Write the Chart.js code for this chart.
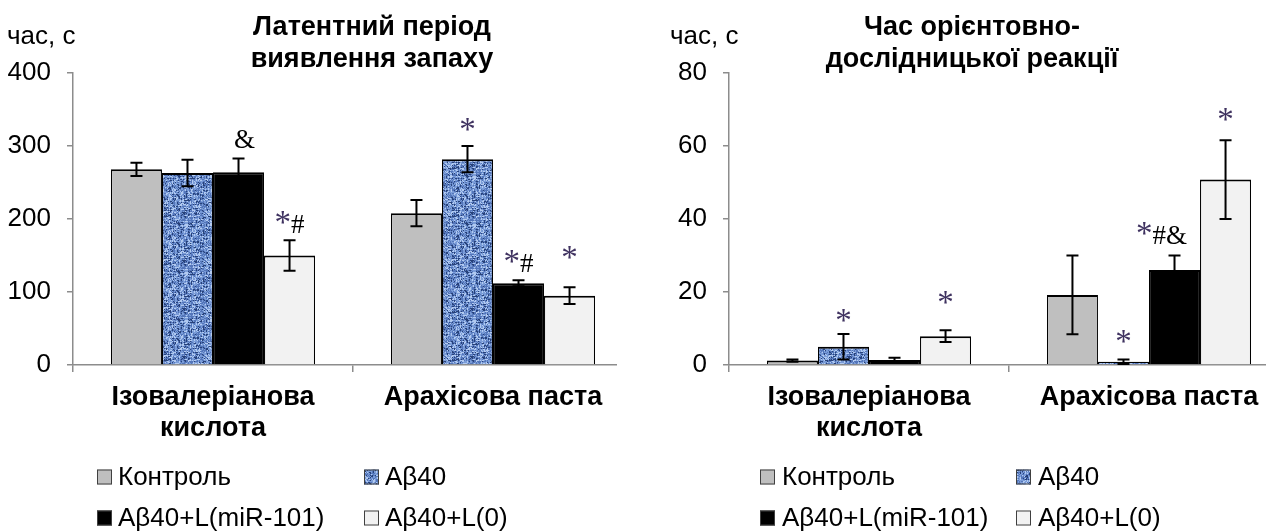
<!DOCTYPE html>
<html>
<head>
<meta charset="utf-8">
<script src="https://cdn.jsdelivr.net/npm/chart.js@4/dist/chart.umd.min.js"></script>
<style>
  html, body { margin: 0; padding: 0; background: #fff; overflow: hidden; width: 1266px; height: 531px; }
  .panel { position: absolute; top: 0; height: 531px; overflow: hidden; background: #fff; }
  #p1 { left: 0; width: 617px; }
  #p2 { left: 617px; width: 649px; }
  canvas { position: absolute; top: 0; left: 0; }
</style>
</head>
<body>
<div class="panel" id="p1"><canvas id="c1" width="680" height="531" style="width:680px;height:531px"></canvas></div>
<div class="panel" id="p2"><canvas id="c2" width="700" height="531" style="width:700px;height:531px"></canvas></div>
<script>
// ---- data ----
const categories = [['Ізовалеріанова', 'кислота'], 'Арахісова паста'];
const seriesNames = ['Контроль', 'Aβ40', 'Aβ40+L(miR-101)', 'Aβ40+L(0)'];

// Латентний період виявлення запаху, с (mean, ± error)
const latControl = [268, 208];
const latAb40 = [263, 282];
const latMir = [264, 112];
const latL0 = [150, 95];
const latControlErr = [9, 18];
const latAb40Err = [18, 18];
const latMirErr = [19, 4];
const latL0Err = [21, 11.5];
const latTicks = [0, 100, 200, 300, 400];
const latNotesControl = ['', ''];
const latNotesAb40 = ['', '*'];
const latNotesMir = ['&', '*#'];
const latNotesL0 = ['*#', '*'];

// Час орієнтовно-дослідницької реакції, с
const oriControl = [1.2, 19.2];
const oriAb40 = [5.0, 0.9];
const oriMir = [1.4, 26.0];
const oriL0 = [7.9, 50.8];
const oriControlErr = [0.3, 10.8];
const oriAb40Err = [3.5, 0.6];
const oriMirErr = [0.6, 4.0];
const oriL0Err = [1.6, 10.8];
const oriTicks = [0, 20, 40, 60, 80];
const oriNotesControl = ['', ''];
const oriNotesAb40 = ['*', '*'];
const oriNotesMir = ['', '*#&'];
const oriNotesL0 = ['*', '*'];

// ---- styles ----
const SANS = "'Liberation Sans', Arial, sans-serif";
const SERIF = "'Liberation Serif', 'Times New Roman', serif";
const AXIS_GREY = '#8c8c8c';
Chart.defaults.font.family = SANS;
Chart.defaults.color = '#000';

// blue "tissue" texture used for the Aβ40 bars
function tissuePattern() {
  const size = 48;
  const c = document.createElement('canvas');
  c.width = c.height = size;
  const g = c.getContext('2d');
  const img = g.createImageData(size, size);
  const hash = (x, y, s) => {
    let n = Math.imul(x + s * 131, 374761393) ^ Math.imul(y + s * 71, 668265263);
    n = Math.imul(n ^ (n >>> 13), 1274126177);
    n ^= n >>> 16;
    return (n >>> 0) / 4294967296;
  };
  const pal = [[40, 66, 122], [84, 118, 186], [122, 156, 216], [178, 202, 240]];
  for (let y = 0; y < size; y++) {
    for (let x = 0; x < size; x++) {
      const v = 0.4 * hash(x, y, 1) + 0.35 * hash(x >> 2, y, 2) + 0.25 * hash(x, y >> 2, 3);
      const k = v < 0.33 ? 0 : v < 0.48 ? 1 : v < 0.66 ? 2 : 3;
      const o = (y * size + x) * 4;
      img.data[o] = pal[k][0]; img.data[o + 1] = pal[k][1]; img.data[o + 2] = pal[k][2]; img.data[o + 3] = 255;
    }
  }
  g.putImageData(img, 0, 0);
  return g.createPattern(c, 'repeat');
}
const tissue = tissuePattern();
const fills = ['#bfbfbf', tissue, '#000000', '#f2f2f2'];

// ---- plugins ----
const errorBars = {
  id: 'errorBars',
  afterDatasetsDraw(chart, args, opts) {
    const ctx = chart.ctx, ys = chart.scales.y;
    ctx.save();
    ctx.strokeStyle = opts.color;
    ctx.lineWidth = opts.width;
    chart.data.datasets.forEach((ds, i) => {
      chart.getDatasetMeta(i).data.forEach((bar, j) => {
        const v = ds.data[j], e = ds.errors[j];
        const x = bar.x;
        const t = ys.getPixelForValue(v + e);
        const b = ys.getPixelForValue(Math.max(0, v - e));
        ctx.beginPath();
        ctx.moveTo(x, t); ctx.lineTo(x, b);
        ctx.moveTo(x - opts.cap, t); ctx.lineTo(x + opts.cap, t);
        ctx.moveTo(x - opts.cap, b); ctx.lineTo(x + opts.cap, b);
        ctx.stroke();
      });
    });
    ctx.restore();
  }
};

const notes = {
  id: 'notes',
  afterDatasetsDraw(chart, args, opts) {
    const ctx = chart.ctx, ys = chart.scales.y;
    ctx.save();
    ctx.textBaseline = 'alphabetic';
    ctx.textAlign = 'left';
    chart.data.datasets.forEach((ds, i) => {
      chart.getDatasetMeta(i).data.forEach((bar, j) => {
        const text = ds.notes[j];
        if (!text) return;
        const top = ys.getPixelForValue(ds.data[j] + ds.errors[j]);
        const base = top - opts.lift[i][j];
        const parts = [...text].map(ch => ({
          ch,
          font: ch === '*' ? opts.starFont : opts.signFont,
          color: ch === '*' ? opts.starColor : '#000'
        }));
        let w = 0;
        parts.forEach(p => { ctx.font = p.font; p.w = ctx.measureText(p.ch).width; w += p.w; });
        let x = bar.x + opts.dx[i][j] - w / 2;
        parts.forEach(p => {
          ctx.font = p.font; ctx.fillStyle = p.color;
          ctx.fillText(p.ch, x, base);
          x += p.w;
        });
      });
    });
    ctx.restore();
  }
};

const decor = {
  id: 'decor',
  afterDraw(chart, args, opts) {
    const ctx = chart.ctx;
    ctx.save();
    ctx.fillStyle = '#000';
    ctx.textBaseline = 'alphabetic';
    // title
    ctx.font = 'bold 27px ' + SANS;
    ctx.textAlign = 'center';
    opts.title.lines.forEach((line, k) => ctx.fillText(line, opts.title.x, opts.title.y[k]));
    // unit label
    ctx.font = '26px ' + SANS;
    ctx.textAlign = 'left';
    ctx.fillText(opts.unit.text, opts.unit.x, opts.unit.y);
    // legend, two columns by two rows
    const L = opts.legend;
    ctx.font = '26px ' + SANS;
    ctx.textBaseline = 'middle';
    chart.data.datasets.forEach((ds, i) => {
      const x = L.cols[i % 2], y = L.rows[Math.floor(i / 2)];
      ctx.fillStyle = ds.backgroundColor;
      ctx.fillRect(x, y - L.box / 2, L.box, L.box);
      ctx.strokeStyle = '#404040';
      ctx.lineWidth = 1;
      ctx.strokeRect(x + 0.5, y - L.box / 2 + 0.5, L.box - 1, L.box - 1);
      ctx.fillStyle = '#000';
      ctx.fillText(ds.label, x + L.box + L.gap, y + 1);
    });
    ctx.restore();
  }
};

// ---- chart factory ----
function buildChart(id, cfg) {
  const datasets = cfg.series.map((vals, i) => ({
    label: seriesNames[i],
    data: vals,
    errors: cfg.errors[i],
    notes: cfg.notes[i],
    backgroundColor: fills[i],
    borderColor: '#000',
    borderWidth: { top: 2, left: 1.2, right: 1.2, bottom: 0 },
    borderSkipped: 'start',
    categoryPercentage: 0.729,
    barPercentage: 1.0
  }));
  return new Chart(document.getElementById(id), {
    type: 'bar',
    data: { labels: categories, datasets },
    plugins: [errorBars, notes, decor],
    options: {
      responsive: false,
      maintainAspectRatio: false,
      animation: false,
      devicePixelRatio: 1,
      layout: { padding: { top: 73, right: cfg.padRight, left: 0, bottom: 0 } },
      scales: {
        x: {
          grid: { offset: true, drawOnChartArea: false, drawTicks: true, tickLength: 7, color: AXIS_GREY, lineWidth: 1.5 },
          border: { color: AXIS_GREY, width: 1.5 },
          ticks: { font: { size: 27, weight: 'bold', lineHeight: 1.15 }, color: '#000', padding: 10, autoSkip: false, maxRotation: 0 },
          afterFit: s => { s.height = 166; }
        },
        y: {
          min: cfg.ticks[0],
          max: cfg.ticks[cfg.ticks.length - 1],
          afterBuildTicks: s => { s.ticks = cfg.ticks.map(v => ({ value: v })); },
          grid: { drawOnChartArea: false, drawTicks: true, tickLength: 6, color: AXIS_GREY, lineWidth: 1.5 },
          border: { color: AXIS_GREY, width: 1.5 },
          ticks: { font: { size: 26 }, color: '#000', padding: 16 },
          afterFit: s => { s.width = cfg.axisWidth; }
        }
      },
      plugins: {
        legend: { display: false },
        tooltip: { enabled: false },
        errorBars: { color: '#000', width: 2, cap: 6 },
        notes: {
          lift: cfg.lift, dx: cfg.dx,
          starFont: '33px ' + SERIF, signFont: '27px ' + SERIF, starColor: '#3f3260'
        },
        decor: { title: cfg.title, unit: cfg.unit, legend: cfg.legend }
      }
    }
  });
}

buildChart('c1', {
  series: [latControl, latAb40, latMir, latL0],
  errors: [latControlErr, latAb40Err, latMirErr, latL0Err],
  notes: [latNotesControl, latNotesAb40, latNotesMir, latNotesL0],
  ticks: latTicks,
  axisWidth: 73,
  padRight: 47,
  lift: [[0, 0], [0, 6], [10, 8], [7, 19]],
  dx: [[0, 0], [0, 0], [6, 0], [0, 0]],
  title: { lines: ['Латентний період', 'виявлення запаху'], x: 372, y: [35, 67] },
  unit: { text: 'час, с', x: 7, y: 44 },
  legend: { cols: [97, 364], rows: [477, 518], box: 15, gap: 6 }
});

buildChart('c2', {
  series: [oriControl, oriAb40, oriMir, oriL0],
  errors: [oriControlErr, oriAb40Err, oriMirErr, oriL0Err],
  notes: [oriNotesControl, oriNotesAb40, oriNotesMir, oriNotesL0],
  ticks: oriTicks,
  axisWidth: 112,
  padRight: 28,
  lift: [[0, 0], [3, 8], [0, 12], [17, 10]],
  dx: [[0, 0], [0, 0], [0, -13], [0, 0]],
  title: { lines: ['Час орієнтовно-', 'дослідницької реакції'], x: 355, y: [35, 67] },
  unit: { text: 'час, с', x: 53, y: 44 },
  legend: { cols: [143, 399], rows: [477, 518], box: 15, gap: 7 }
});
</script>
</body>
</html>
